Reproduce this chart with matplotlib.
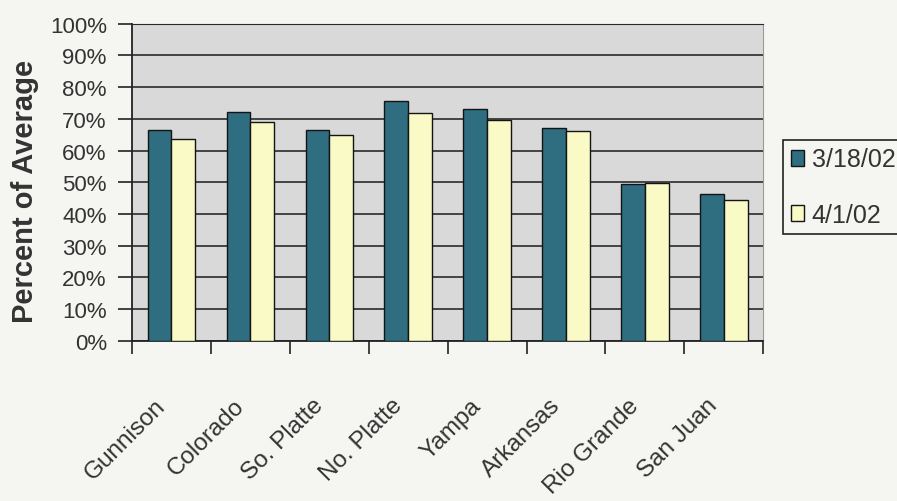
import numpy as np
import matplotlib
matplotlib.use("Agg")
from matplotlib import pyplot as plt
from matplotlib.ticker import FixedLocator, PercentFormatter

# basin snowpack, percent of average
basins = ["Gunnison", "Colorado", "So. Platte", "No. Platte",
          "Yampa", "Arkansas", "Rio Grande", "San Juan"]
mar18 = [66.5, 72, 66.5, 75.5, 73, 67, 49.5, 46.3]
apr1 = [63.5, 69, 65, 71.8, 69.5, 66, 49.7, 44.5]
series_names = ["3/18/02", "4/1/02"]
yticks = list(range(0, 101, 10))

plt.rcParams['font.family'] = ['Liberation Sans', 'DejaVu Sans']

bg = "#f5f5f2"
fig = plt.figure(figsize=(8.97, 5.02), dpi=100, facecolor=bg)
ax = fig.add_axes([0.147, 0.319, 0.704, 0.632])
ax.set_facecolor("#d9d9d9")

x = np.arange(len(basins))
w = 0.3
ax.bar(x - w/2, mar18, w, color="#2f6e80", edgecolor="#141414", lw=1.0,
       label=series_names[0], zorder=3)
ax.bar(x + w/2, apr1, w, color="#fafac6", edgecolor="#141414", lw=1.0,
       label=series_names[1], zorder=3)

ax.set_xlim(-0.5, len(basins) - 0.5)
ax.set_ylim(0, 100)
ax.set_yticks(yticks)
ax.yaxis.set_major_formatter(PercentFormatter(decimals=0))
ax.yaxis.grid(True, color="#2a2a2a", lw=1.2, zorder=1)

ax.set_xticks(x - 0.12)
ax.set_xticklabels(basins, rotation=45, ha="right", va="center",
                   rotation_mode="anchor", fontsize=17.5, color="#333333")
ax.xaxis.set_minor_locator(FixedLocator(np.arange(-0.5, len(basins), 1)))
ax.tick_params(axis="x", which="major", length=0, pad=44)
ax.tick_params(axis="x", which="minor", length=9, width=1.2, color="#222222")
ax.tick_params(axis="y", length=10, width=1.2, color="#222222",
               labelsize=16, labelcolor="#333333", pad=8)

for s in ["left", "bottom"]:
    ax.spines[s].set_color("#222222")
    ax.spines[s].set_linewidth(1.3)
ax.spines["top"].set_color("#2a2a2a")
ax.spines["right"].set_color("#9a9a9a")

ax.set_ylabel("Percent of Average", fontsize=21, fontweight="bold",
              color="#333333")
ax.yaxis.set_label_coords(-0.147, 0.475)

leg = fig.legend(loc="upper left", bbox_to_anchor=(783/897, 1 - 141/502),
                 fontsize=18, frameon=True, fancybox=False, edgecolor="#222222",
                 facecolor=bg, framealpha=1, handlelength=0.55, handleheight=0.6,
                 handletextpad=0.3, labelspacing=1.25, borderpad=0.3,
                 borderaxespad=0)
leg.get_frame().set_linewidth(1.2)
for t in leg.get_texts():
    t.set_color("#333333")

fig.savefig("out.png", dpi=100, facecolor=bg)
